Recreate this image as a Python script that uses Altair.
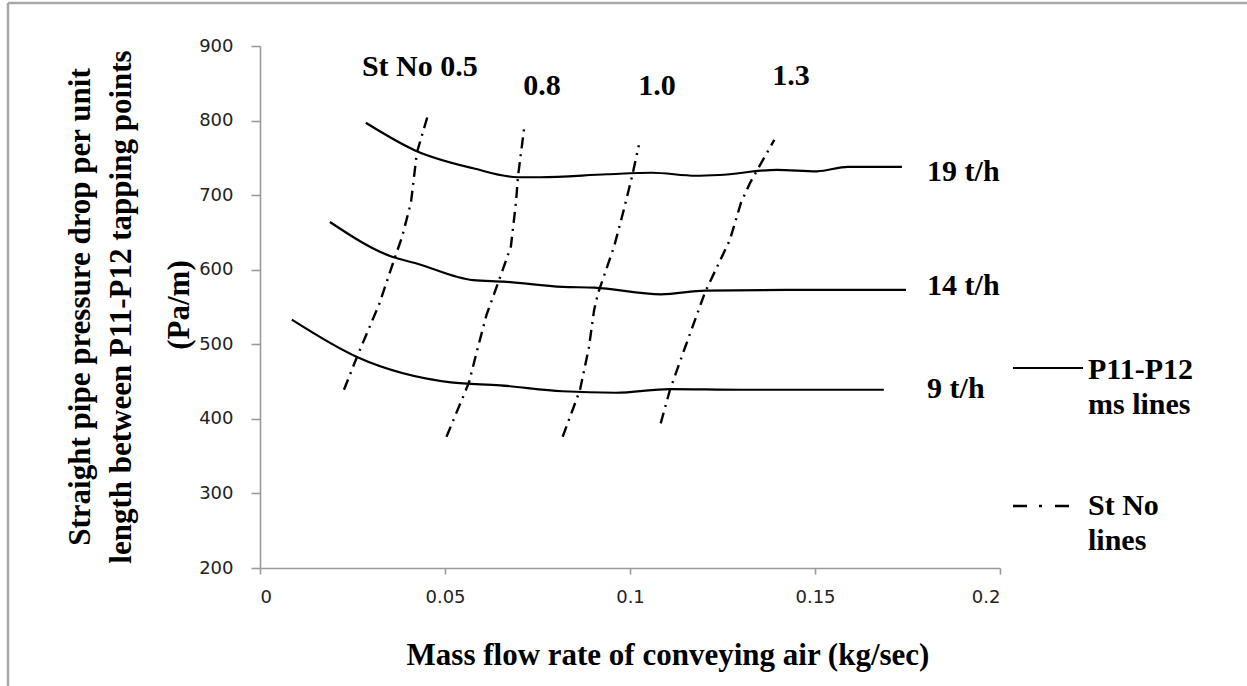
import altair as alt
import pandas as pd

# ---- data ----
# P11-P12 mass-flow (ms) lines: x = air mass flow (kg/s), y = pressure drop (Pa/m)
x19 = [0.0286, 0.0419, 0.0576, 0.0697, 0.0757, 0.0938, 0.1059, 0.1178, 0.1241, 0.1397, 0.1505, 0.1589, 0.1735]
y19 = [797, 760, 736, 724, 724, 728, 730, 726, 727, 734, 732, 738, 738]
x14 = [0.0189, 0.0359, 0.0419, 0.0576, 0.0659, 0.0818, 0.0903, 0.1084, 0.1203, 0.1422, 0.1746]
y14 = [664, 617, 609, 586, 584, 577, 576, 567, 572, 573, 573]
x9 = [0.0086, 0.0262, 0.0516, 0.0649, 0.0818, 0.0962, 0.1108, 0.1300, 0.1686]
y9 = [533, 483, 449, 445, 437, 435, 440, 439, 439]
ms_names = ["19 t/h", "14 t/h", "9 t/h"]

# Stokes number lines
st05_x = [0.0227, 0.0262, 0.0323, 0.0365, 0.0384, 0.0408, 0.0424, 0.0456]
st05_y = [439, 483, 555, 617, 644, 690, 757, 811]
st08_x = [0.0504, 0.0565, 0.0589, 0.0612, 0.0654, 0.0678, 0.0692, 0.0697, 0.0715]
st08_y = [376, 449, 496, 539, 597, 631, 691, 724, 794]
st10_x = [0.0818, 0.0865, 0.0889, 0.0903, 0.0914, 0.0957, 0.0981, 0.1005, 0.1024]
st10_y = [376, 439, 496, 546, 569, 631, 676, 724, 767]
st13_x = [0.1083, 0.1108, 0.1149, 0.1192, 0.1203, 0.1270, 0.1300, 0.1324, 0.1359, 0.1390]
st13_y = [394, 439, 496, 555, 570, 640, 690, 716, 747, 774]
st_names = ["0.5", "0.8", "1.0", "1.3"]

# annotation labels (data coordinates)
st_label_text = ["St No 0.5", "0.8", "1.0", "1.3"]
st_label_x = [0.0432, 0.0762, 0.1073, 0.1435]
st_label_y = [872, 846, 846, 860]
ms_label_text = ["19 t/h", "14 t/h", "9 t/h"]
ms_label_x = [0.1803, 0.1803, 0.1803]
ms_label_y = [731, 578, 440]

x_ticks = [0, 0.05, 0.1, 0.15, 0.2]
y_ticks = [200, 300, 400, 500, 600, 700, 800, 900]

# ---- build tables ----
ms_rows = []
for name, xs_, ys_ in zip(ms_names, [x19, x14, x9], [y19, y14, y9]):
    for i, (a, b) in enumerate(zip(xs_, ys_)):
        ms_rows.append({"series": name, "x": a, "y": b, "o": i})
ms_df = pd.DataFrame(ms_rows)

st_rows = []
for name, xs_, ys_ in zip(st_names, [st05_x, st08_x, st10_x, st13_x], [st05_y, st08_y, st10_y, st13_y]):
    for i, (a, b) in enumerate(zip(xs_, ys_)):
        st_rows.append({"series": name, "x": a, "y": b, "o": i})
st_df = pd.DataFrame(st_rows)

st_lab = pd.DataFrame({"t": st_label_text, "x": st_label_x, "y": st_label_y})
ms_lab = pd.DataFrame({"t": ms_label_text, "x": ms_label_x, "y": ms_label_y})

W, H = 740, 522
PL, PT = 260, 46
SERIF = "Liberation Serif"
FS = 30

xs = alt.Scale(domain=[0, 0.2], nice=False)
ys = alt.Scale(domain=[200, 900], nice=False)

X = alt.X("x:Q", scale=xs, axis=alt.Axis(values=x_ticks, format="~g", title=None, grid=False,
                                          tickSize=6, labelPadding=14, domainColor="#9a9a9a",
                                          tickColor="#9a9a9a", domainWidth=1.6, tickWidth=1.6,
                                          labelFont="DejaVu Sans", labelFontSize=18, labelColor="#222"))
Y = alt.Y("y:Q", scale=ys, axis=alt.Axis(values=y_ticks, title=None, grid=False,
                                          tickSize=9, labelPadding=18, domainColor="#9a9a9a",
                                          tickColor="#9a9a9a", domainWidth=1.6, tickWidth=1.6,
                                          labelFont="DejaVu Sans", labelFontSize=18, labelColor="#222"))

ms_lines = alt.Chart(ms_df).mark_line(color="black", strokeWidth=2.2, interpolate="monotone").encode(
    x=X, y=Y, detail="series:N", order="o:Q")

st_lines = alt.Chart(st_df).mark_line(color="black", strokeWidth=2.4, strokeDash=[11, 6, 2, 6]).encode(
    x=alt.X("x:Q", scale=xs), y=alt.Y("y:Q", scale=ys), detail="series:N", order="o:Q")

st_text = alt.Chart(st_lab).mark_text(font=SERIF, fontWeight="bold", fontSize=FS, color="black",
                                      align="center", baseline="middle").encode(
    x=alt.X("x:Q", scale=xs), y=alt.Y("y:Q", scale=ys), text="t:N")

ms_text = alt.Chart(ms_lab).mark_text(font=SERIF, fontWeight="bold", fontSize=FS, color="black",
                                      align="left", baseline="middle").encode(
    x=alt.X("x:Q", scale=xs), y=alt.Y("y:Q", scale=ys), text="t:N")

one = pd.DataFrame({"k": [0]})

def px(v):
    return alt.value(v - PL)

def py(v):
    return alt.value(v - PT)

def txt(s, x, y, size=FS, align="center", angle=0):
    return alt.Chart(one).mark_text(text=s, font=SERIF, fontWeight="bold", fontSize=size,
                                    color="black", align=align, baseline="middle",
                                    angle=angle).encode(x=px(x), y=py(y))

# legend (manual, like the original)
leg_solid = alt.Chart(one).mark_rule(color="black", strokeWidth=2.2).encode(
    x=px(1013), x2=px(1083), y=py(368))
leg_dash = alt.Chart(one).mark_rule(color="black", strokeWidth=2.6, strokeDash=[14, 12, 3, 13]).encode(
    x=px(1013), x2=px(1073), y=py(506))

# frame
frame_top = alt.Chart(one).mark_rule(color="#a8a8a8", strokeWidth=2.5).encode(
    x=px(8), x2=px(1247), y=py(3))
frame_left = alt.Chart(one).mark_rule(color="#a8a8a8", strokeWidth=2.5).encode(
    x=px(8), y=py(3), y2=py(686))

texts = [
    txt("P11-P12", 1088, 370, align="left"),
    txt("ms lines", 1088, 405, align="left"),
    txt("St No", 1088, 506, align="left"),
    txt("lines", 1088, 541, align="left"),
    txt("Mass flow rate of conveying air (kg/sec)", 668, 656, size=31),
    txt("Straight pipe pressure drop per unit", 81, 307, size=31, angle=270),
    txt("length between P11-P12 tapping points", 122, 307, size=31, angle=270),
    txt("(Pa/m)", 180, 305, size=31, angle=270),
]

chart = alt.layer(ms_lines, st_lines, st_text, ms_text, leg_solid, leg_dash,
                  frame_top, frame_left, *texts).properties(
    width=W, height=H,
    autosize=alt.AutoSizeParams(type="none"),
    padding={"left": PL, "top": PT, "right": 1247 - PL - W, "bottom": 686 - PT - H},
    background="white",
).configure_view(stroke=None)

chart.save("out.html", embed_options={"renderer": "svg", "actions": False})
